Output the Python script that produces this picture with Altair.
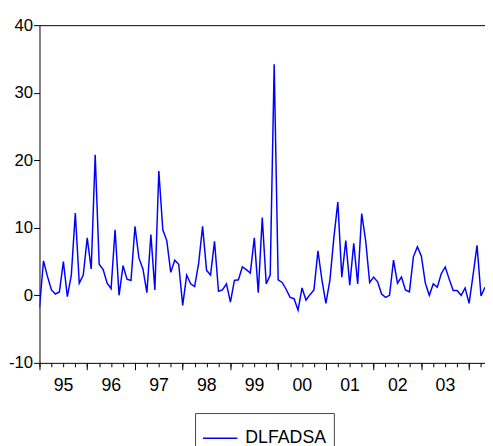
import altair as alt
import pandas as pd

# Monthly series DLFADSA, Jan 1995 .. May 2004
values = [
    -1.8, 5.1, 2.8, 0.8, 0.2, 0.5, 5.0, -0.2, 3.0, 12.2, 1.8, 3.0,
    8.5, 3.9, 20.8, 4.6, 3.8, 1.8, 1.0, 9.7, 0.0, 4.4, 2.4, 2.2,
    10.2, 5.5, 3.9, 0.4, 9.0, 0.8, 18.4, 9.7, 8.1, 3.4, 5.2, 4.6,
    -1.5, 3.0, 1.7, 1.3, 4.7, 10.2, 3.7, 3.0, 8.0, 0.6, 0.8, 1.7,
    -1.0, 2.2, 2.3, 4.2, 3.8, 3.3, 8.5, 0.4, 11.5, 1.7, 3.0, 34.2,
    2.3, 1.9, 0.9, -0.3, -0.5, -2.2, 1.1, -0.7, 0.1, 0.8, 6.6, 2.3,
    -1.2, 2.2, 8.5, 13.8, 2.7, 8.1, 1.5, 7.7, 1.7, 12.1, 8.1, 1.9,
    2.7, 2.0, 0.2, -0.3, 0.0, 5.2, 1.8, 2.7, 0.8, 0.5, 5.7, 7.2,
    5.8, 1.8, 0.0, 1.7, 1.2, 3.2, 4.2, 2.4, 0.7, 0.7, 0.0, 1.1,
    -1.2, 3.0, 7.4, -0.1, 1.2,
]
year_labels = ["95", "96", "97", "98", "99", "00", "01", "02", "03"]
series_name = "DLFADSA"
y_ticks = [-10, 0, 10, 20, 30, 40]

n = len(values)
df = pd.DataFrame({"t": list(range(n)), "v": values, "s": [series_name] * n})

major_ticks = list(range(0, 12 * (len(year_labels) + 1), 12))
minor_ticks = list(range(0, n, 3))
label_expr = "[" + ",".join(f"'{l}'" for l in year_labels) + "][datum.value / 12] || ''"

FONT = "Liberation Sans"
xscale = alt.Scale(domain=[0, n - 1], nice=False, zero=False)
yscale = alt.Scale(domain=[-10, 40], nice=False, zero=False)

y_enc = alt.Y("v:Q", scale=yscale, title=None,
              axis=alt.Axis(values=y_ticks, tickSize=6, labelPadding=1,
                            labelExpr="toString(datum.value)",
                            labelFontSize=17, labelFont=FONT, labelColor="black",
                            domainColor="black", tickColor="black", grid=False,
                            labelFlush=False))

line = alt.Chart(df).mark_line(strokeWidth=1.5, clip=True).encode(
    x=alt.X("t:Q", scale=xscale, title=None,
            axis=alt.Axis(orient="bottom", values=major_ticks, tickSize=7,
                          labelExpr=label_expr, labelOffset=24, labelPadding=7,
                          labelFontSize=18, labelFont=FONT, labelColor="black",
                          labelFlush=False, labelOverlap=False, labelBound=False,
                          domain=True, domainColor="black", domainWidth=1,
                          tickColor="black", grid=False)),
    y=y_enc,
    color=alt.Color("s:N", scale=alt.Scale(domain=[series_name], range=["#0000ff"]),
                    legend=alt.Legend(orient="none", legendX=158, legendY=394,
                                      title=None, symbolType="stroke", symbolSize=1225,
                                      symbolStrokeWidth=1.5, labelFontSize=18,
                                      labelFont=FONT, labelColor="black",
                                      strokeColor="#444", padding=7, labelOffset=7,
                                      fillColor="white", cornerRadius=0)),
)

minor = alt.Chart(df).mark_line(opacity=0).encode(
    x=alt.X("t:Q", scale=xscale, title=None,
            axis=alt.Axis(orient="bottom", values=minor_ticks, tickSize=4,
                          labels=False, domain=False, grid=False, tickColor="black")),
    y=y_enc,
)

top = alt.Chart(df).mark_line(opacity=0).encode(
    x=alt.X("t:Q", scale=xscale, title=None,
            axis=alt.Axis(orient="top", ticks=False, labels=False, grid=False,
                          domain=True, domainColor="black")),
    y=y_enc,
)

chart = alt.layer(line, minor, top).resolve_axis(x="independent").properties(
    width=452.5, height=343,
    autosize=alt.AutoSizeParams(type="none"),
    padding={"left": 32, "top": 14, "right": 0, "bottom": 81},
    background="white",
).configure_view(stroke=None)

chart.save("out.html", embed_options={"renderer": "svg", "actions": False})
